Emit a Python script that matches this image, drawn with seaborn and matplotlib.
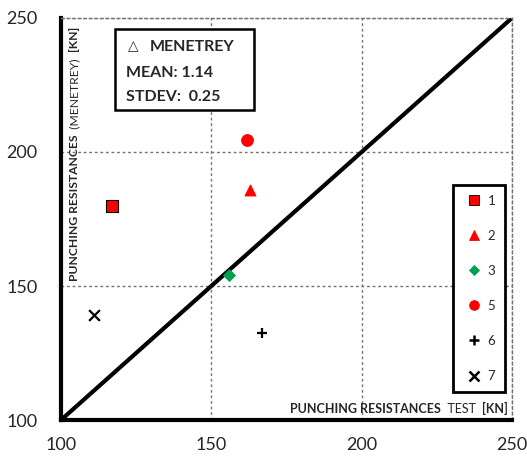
import matplotlib
matplotlib.use("Agg")
import matplotlib.pyplot as plt
import seaborn as sns
import pandas as pd

# values
SERIES = ["1", "2", "3", "5", "6", "7"]
TEST = [117, 163, 156, 162, 167, 111]
MENETREY = [180, 186, 154, 204.5, 132.5, 139]
MARKERS = ["s", "^", "D", "o", "+", "x"]
COLORS = ["#ff0000", "#ff0000", "#00a050", "#ff0000", "black", "black"]
SIZES = [70, 60, 35, 70, 60, 60]
DIAG = [100, 250]
TICKS = [100, 150, 200, 250]
MEAN = 1.14
STDEV = 0.25

sns.set_style("white")
plt.rcParams["font.family"] = ["Lato", "DejaVu Sans"]

fig = plt.figure(figsize=(5.27, 4.61), dpi=100)
ax = fig.add_axes([0.1157, 0.0889, 0.8558, 0.8721])

sns.lineplot(x=DIAG, y=DIAG, color="black", lw=3, ax=ax, zorder=2)

handles = []
for lab, x, y, m, c, s in zip(SERIES, TEST, MENETREY, MARKERS, COLORS, SIZES):
    df = pd.DataFrame({"x": [x], "y": [y]})
    if m in ("+", "x"):
        sns.scatterplot(data=df, x="x", y="y", marker=m, color=c, s=s,
                        linewidth=1.6, ax=ax, zorder=3)
    else:
        sns.scatterplot(data=df, x="x", y="y", marker=m, color=c, s=s,
                        edgecolor="black" if m == "s" else c, linewidth=0.8,
                        ax=ax, zorder=3)
    h = plt.Line2D([], [], marker=m, color=c, linestyle="none",
                   markersize=7 if m != "D" else 5,
                   markeredgewidth=1.8 if m in ("+", "x") else 0.6,
                   markeredgecolor="black" if m == "s" else c)
    handles.append(h)

ax.set_xlim(100, 250)
ax.set_ylim(100, 250)
ax.set_xticks(TICKS)
ax.set_yticks(TICKS)
ax.tick_params(axis="both", length=0, labelsize=13)
ax.tick_params(axis="x", pad=12)
ax.tick_params(axis="y", pad=17)
ax.set_xlabel("")
ax.set_ylabel("")
ax.grid(True, color="0.45", linestyle=(0, (2, 2)), lw=1)

for side in ["left", "bottom"]:
    ax.spines[side].set_color("black")
    ax.spines[side].set_linewidth(3)
for side in ["top", "right"]:
    ax.spines[side].set_color("0.45")
    ax.spines[side].set_linestyle((0, (2, 2)))
    ax.spines[side].set_linewidth(1)

leg = ax.legend(handles, SERIES, loc="upper right", bbox_to_anchor=(0.985, 0.585),
                frameon=True, fancybox=False, fontsize=9.5, handlelength=1.8,
                handletextpad=0.1, labelspacing=1.75, borderpad=0.75,
                borderaxespad=0.0)
leg.get_frame().set_edgecolor("black")
leg.get_frame().set_linewidth(2)
leg.get_frame().set_alpha(1)

# info box
box = plt.Rectangle((0.119, 0.772), 0.31, 0.2, transform=ax.transAxes,
                    facecolor="white", edgecolor="black", lw=1.8, zorder=4)
ax.add_patch(box)
ax.text(0.148, 0.93, "\u25b3", transform=ax.transAxes, fontsize=10,
        va="center", ha="left", zorder=5, family=["DejaVu Sans"])
ax.text(0.197, 0.928, "MENETREY", transform=ax.transAxes, fontsize=11.5,
        fontweight="bold", va="center", ha="left", zorder=5)
ax.text(0.145, 0.863, f"MEAN: {MEAN:.2f}", transform=ax.transAxes, fontsize=11.5,
        fontweight="bold", va="center", ha="left", zorder=5)
ax.text(0.145, 0.803, f"STDEV:  {STDEV:.2f}", transform=ax.transAxes, fontsize=11.5,
        fontweight="bold", va="center", ha="left", zorder=5)

# y-label pieces, inside the plot
t = ax.text(0.031, 0.345, "PUNCHING RESISTANCES", transform=ax.transAxes,
            rotation=90, fontsize=8.7, fontweight="bold", ha="center", va="bottom")
t = ax.annotate("  (MENETREY)", xy=(0.5, 1), xycoords=t, rotation=90, fontsize=8.7,
                ha="center", va="bottom")
ax.annotate("  [KN]", xy=(0.5, 1), xycoords=t, rotation=90, fontsize=8.7,
            fontweight="bold", ha="center", va="bottom")

# x-label pieces, inside the plot
t = ax.text(0.508, 0.028, "PUNCHING RESISTANCES", transform=ax.transAxes,
            fontsize=9, fontweight="bold", ha="left", va="center")
t = ax.annotate("  TEST", xy=(1, 0.5), xycoords=t, fontsize=9,
                ha="left", va="center")
ax.annotate("  [KN]", xy=(1, 0.5), xycoords=t, fontsize=9,
            fontweight="bold", ha="left", va="center")

fig.savefig("out.png", dpi=100)
